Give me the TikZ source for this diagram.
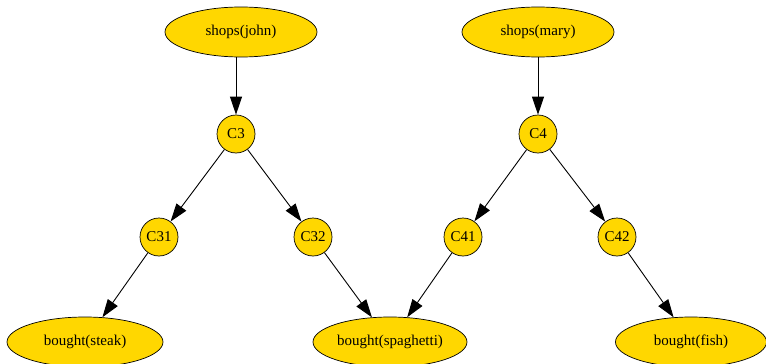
\documentclass[tikz,border=0pt]{standalone}
\usepackage{fontspec}
\setmainfont{Liberation Serif}
\usetikzlibrary{shapes.geometric,arrows.meta}
\definecolor{gold}{HTML}{FFD700}
\begin{document}
\begin{tikzpicture}[x=1pt,y=-1pt,
  every node/.style={font=\fontsize{15}{17}\selectfont},
  ell/.style={ellipse,draw,fill=gold,line width=0.7pt,minimum width=#1,minimum height=50pt,inner sep=0pt},
  circ/.style={circle,draw,fill=gold,line width=0.7pt,minimum size=38pt,inner sep=0pt},
  edge/.style={-{Triangle[length=18pt,width=12pt]},line width=0.9pt}]
\useasboundingbox (0,0) rectangle (766,364);
\node[ell=152pt] (sj) at (241,32) {shops(john)};
\node[ell=152pt] (sm) at (538,32) {shops(mary)};
\node[circ] (c3) at (236,134) {C3};
\node[circ] (c4) at (538,134) {C4};
\node[circ] (c31) at (159,237) {C31};
\node[circ] (c32) at (313,237) {C32};
\node[circ] (c41) at (463,237) {C41};
\node[circ] (c42) at (617,237) {C42};
\node[ell=156pt] (bs) at (85,342) {bought(steak)};
\node[ell=154pt] (bp) at (390,342) {bought(spaghetti)};
\node[ell=151pt] (bf) at (691,342) {bought(fish)};
\draw[edge] (c3 |- sj.south) -- (c3);
\draw[edge] (sm) -- (c4);
\draw[edge] (c3) -- (c31);
\draw[edge] (c3) -- (c32);
\draw[edge] (c4) -- (c41);
\draw[edge] (c4) -- (c42);
\draw[edge] (c31) -- (bs);
\draw[edge] (c32) -- (bp);
\draw[edge] (c41) -- (bp);
\draw[edge] (c42) -- (bf);
\end{tikzpicture}
\end{document}
